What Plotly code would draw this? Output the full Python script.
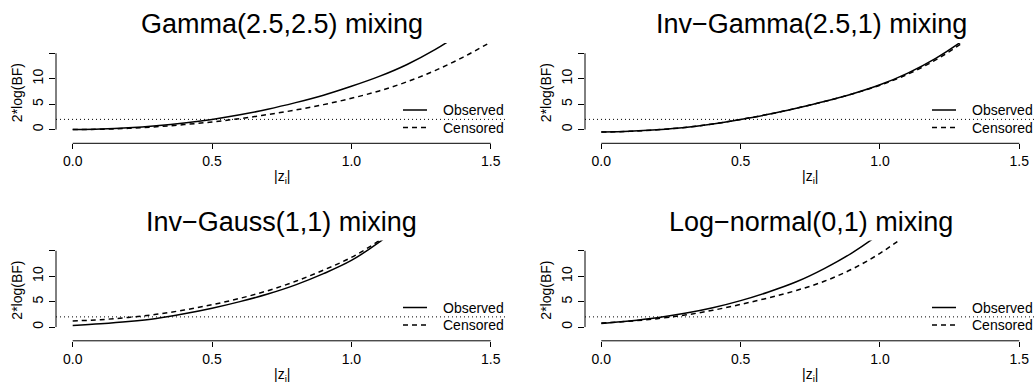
import plotly.graph_objects as go

# |z_i| grid (same for every panel) and 2*log(BF) read at each grid point
z_vals = [0.0, 0.1, 0.2, 0.3, 0.4, 0.5, 0.6, 0.7, 0.8, 0.9, 1.0, 1.1, 1.2, 1.3, 1.4, 1.5]

gamma_observed = [0.0, 0.1, 0.35, 0.75, 1.3, 2.0, 2.9, 4.0, 5.3, 6.75, 8.5, 10.45, 12.8, 15.7, 19.2, None]
gamma_censored = [0.0, 0.06, 0.25, 0.55, 0.98, 1.5, 2.15, 2.95, 3.85, 4.9, 6.15, 7.6, 9.4, 11.6, 14.2, 17.2]

invgamma_observed = [-0.5, -0.35, -0.05, 0.4, 1.1, 2.0, 3.0, 4.2, 5.5, 7.0, 8.8, 11.1, 14.0, 17.6, 21.8, None]
invgamma_censored = [-0.5, -0.35, -0.05, 0.4, 1.1, 2.0, 3.0, 4.2, 5.5, 7.0, 8.7, 10.9, 13.7, 17.2, 21.3, None]

invgauss_observed = [0.3, 0.65, 1.1, 1.7, 2.6, 3.7, 5.0, 6.5, 8.3, 10.5, 13.1, 16.7, 21.0, None, None, None]
invgauss_censored = [1.2, 1.45, 1.9, 2.5, 3.35, 4.4, 5.65, 7.15, 9.0, 11.2, 13.7, 17.0, 21.1, None, None, None]

lognormal_observed = [0.7, 1.2, 1.85, 2.7, 3.8, 5.2, 6.9, 8.9, 11.5, 14.6, 18.4, 23.0, None, None, None, None]
lognormal_censored = [0.8, 1.15, 1.65, 2.35, 3.3, 4.45, 5.75, 7.2, 9.0, 11.4, 14.5, 18.3, 22.5, None, None, None]

panel_titles = ["Gamma(2.5,2.5) mixing", "Inv\u2212Gamma(2.5,1) mixing",
                "Inv\u2212Gauss(1,1) mixing", "Log\u2212normal(0,1) mixing"]
observed_series = [gamma_observed, invgamma_observed, invgauss_observed, lognormal_observed]
censored_series = [gamma_censored, invgamma_censored, invgauss_censored, lognormal_censored]
legend_labels = ["Observed", "Censored"]

x_ticks = [0.0, 0.5, 1.0, 1.5]
x_tick_text = ["0.0", "0.5", "1.0", "1.5"]
y_ticks = [0, 5, 10, 15]
y_tick_text = ["0", "5", "10", ""]
threshold = 2

W, H = 1035, 386
FONT = "Liberation Sans, Arial, Helvetica, sans-serif"
DASH = "5px,4px"

# plot-region boxes in pixels: (left, right, top, bottom)
ROW_OFF = 197.5
boxes = [(56, 507, 43, 143.3), (585, 1035, 43, 143.3),
         (56, 507, 43 + ROW_OFF, 143.3 + ROW_OFF), (585, 1035, 43 + ROW_OFF, 143.3 + ROW_OFF)]
# pixel position of x=0 and x=1.5 for left / right column
x_px = {56: (72.7, 490.7), 585: (601.3, 1019.3)}
y_range = [-2.7, 17.02]


def px(x):
    return x / W


def py(y):
    return 1 - y / H


fig = go.Figure()
annotations = []
shapes = []
layout = {}

for i in range(4):
    left, right, top, bottom = boxes[i]
    k = "" if i == 0 else str(i + 1)
    xa, ya = "x" + k, "y" + k
    col_off = 0 if i % 2 == 0 else 529
    row_off = 0 if i < 2 else ROW_OFF

    x0p, x1p = x_px[left]
    scale = (x1p - x0p) / 1.5
    xr = [(left - x0p) / scale, (right - x0p) / scale]

    fig.add_trace(go.Scatter(
        x=z_vals, y=observed_series[i], mode="lines", name=legend_labels[0],
        line=dict(color="black", width=1.5, shape="spline", smoothing=1.0),
        xaxis=xa, yaxis=ya, showlegend=False, connectgaps=False))
    fig.add_trace(go.Scatter(
        x=z_vals, y=censored_series[i], mode="lines", name=legend_labels[1],
        line=dict(color="black", width=1.5, dash=DASH, shape="spline", smoothing=1.0),
        xaxis=xa, yaxis=ya, showlegend=False, connectgaps=False))

    layout["xaxis" + k] = dict(
        domain=[px(left), px(right)], range=xr, anchor=ya,
        showline=False, showgrid=False, zeroline=False,
        ticks="outside", ticklen=5, tickwidth=1, tickcolor="black",
        tickvals=x_ticks, ticktext=x_tick_text,
        tickfont=dict(family=FONT, size=14, color="black"))
    layout["yaxis" + k] = dict(
        domain=[py(bottom), py(top)], range=y_range, anchor=xa,
        showline=False, showgrid=False, zeroline=False,
        ticks="outside", ticklen=6, tickwidth=1, tickcolor="black",
        tickvals=y_ticks, ticktext=y_tick_text, tickangle=-90,
        tickfont=dict(family=FONT, size=14, color="black"))

    # axis lines spanning first to last tick
    shapes.append(dict(type="line", xref=xa, yref=ya + " domain",
                       x0=x_ticks[0], x1=x_ticks[-1], y0=0, y1=0,
                       line=dict(color="black", width=1)))
    shapes.append(dict(type="line", xref=xa + " domain", yref=ya,
                       x0=0, x1=0, y0=y_ticks[0], y1=y_ticks[-1],
                       line=dict(color="black", width=1)))
    # reference line at 2*log(BF) = 2
    shapes.append(dict(type="line", xref=xa + " domain", yref=ya,
                       x0=0, x1=1, y0=threshold, y1=threshold,
                       line=dict(color="black", width=1, dash="1px,3px")))

    cx = (left + right) / 2 if i % 2 == 0 else 811
    annotations.append(dict(text=panel_titles[i], x=px(cx), y=py(24 + row_off),
                            xref="paper", yref="paper", showarrow=False,
                            xanchor="center", yanchor="middle",
                            font=dict(family=FONT, size=27, color="black")))
    annotations.append(dict(text="|z<sub>i</sub>|", x=px((x0p + x1p) / 2), y=py(177 + row_off),
                            xref="paper", yref="paper", showarrow=False,
                            xanchor="center", yanchor="middle",
                            font=dict(family=FONT, size=14, color="black")))
    annotations.append(dict(text="2*log(BF)", x=px(left - 39), y=py((top + bottom) / 2),
                            xref="paper", yref="paper", showarrow=False, textangle=-90,
                            xanchor="center", yanchor="middle",
                            font=dict(family=FONT, size=14, color="black")))

    # legend (bottom right of each panel): line keys and labels
    for j, (lab, dash) in enumerate(zip(legend_labels, ["solid", DASH])):
        ry = 110 + 17.5 * j + row_off
        shapes.append(dict(type="line", xref="paper", yref="paper",
                           x0=px(403 + col_off), x1=px(427 + col_off), y0=py(ry), y1=py(ry),
                           line=dict(color="black", width=1.5, dash=dash)))
        annotations.append(dict(text=lab, x=px(441 + col_off), y=py(ry),
                                xref="paper", yref="paper", showarrow=False,
                                xanchor="left", yanchor="middle",
                                font=dict(family=FONT, size=14, color="black")))

fig.update_layout(
    width=W, height=H, autosize=False,
    margin=dict(l=0, r=0, t=0, b=0),
    paper_bgcolor="white", plot_bgcolor="white", showlegend=False,
    annotations=annotations, shapes=shapes, **layout)

fig.write_html("out.html")
